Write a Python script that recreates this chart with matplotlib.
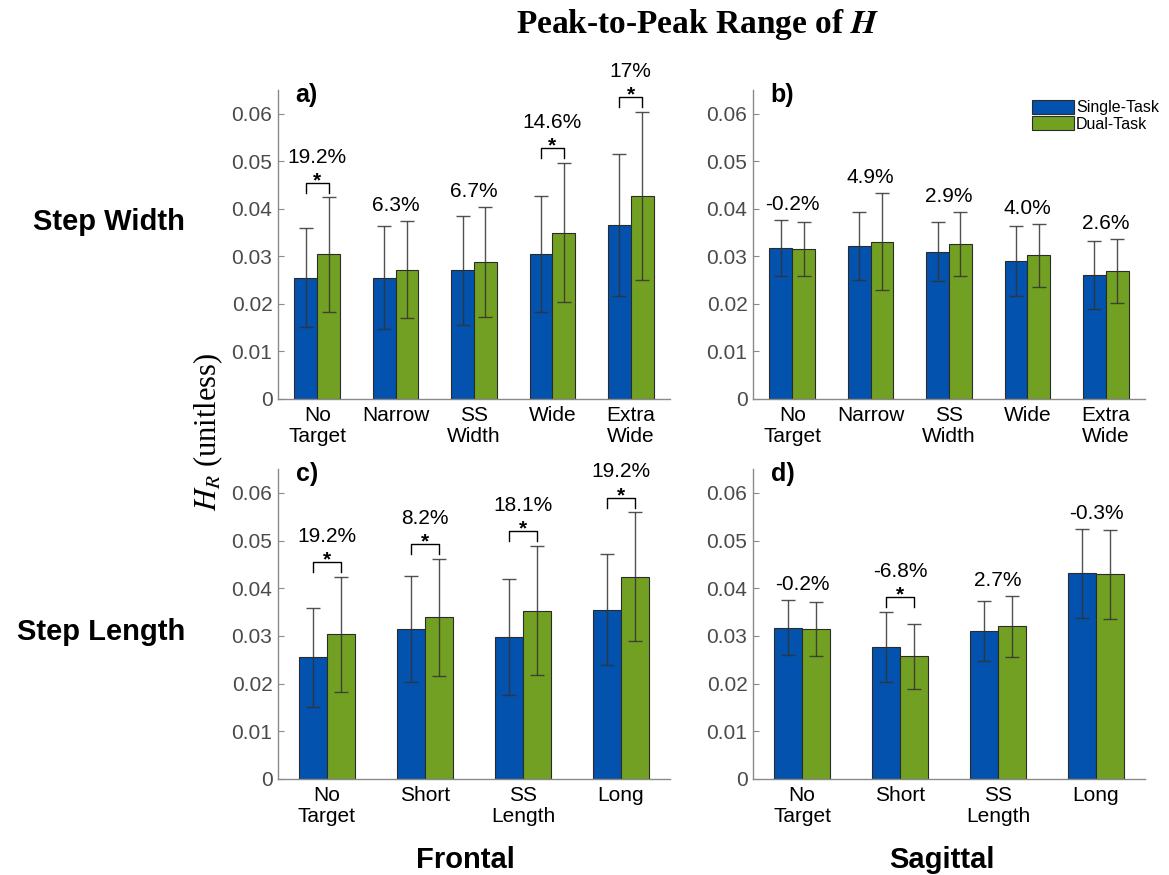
import matplotlib
matplotlib.use("Agg")
import matplotlib.pyplot as plt
from matplotlib.patches import Patch
import numpy as np

plt.rcParams['font.family'] = ['Liberation Sans', 'DejaVu Sans']
plt.rcParams['mathtext.fontset'] = 'stix'

# ---------------- data ----------------
cats_width = ["No\nTarget", "Narrow", "SS\nWidth", "Wide", "Extra\nWide"]
cats_length = ["No\nTarget", "Short", "SS\nLength", "Long"]

# panel a: Frontal / Step Width
a_single = [0.0255, 0.0255, 0.0271, 0.0305, 0.0366]
a_single_sd = [0.0104, 0.0108, 0.0115, 0.0122, 0.0149]
a_dual = [0.0304, 0.0272, 0.0288, 0.0350, 0.0427]
a_dual_sd = [0.0120, 0.0102, 0.0116, 0.0147, 0.0177]
a_pct = ["19.2%", "6.3%", "6.7%", "14.6%", "17%"]
a_sig = [True, False, False, True, True]

# panel b: Sagittal / Step Width
b_single = [0.0318, 0.0322, 0.0310, 0.0290, 0.0261]
b_single_sd = [0.0059, 0.0072, 0.0062, 0.0073, 0.0072]
b_dual = [0.0315, 0.0331, 0.0326, 0.0302, 0.0269]
b_dual_sd = [0.0057, 0.0102, 0.0067, 0.0066, 0.0067]
b_pct = ["-0.2%", "4.9%", "2.9%", "4.0%", "2.6%"]
b_sig = [False, False, False, False, False]

# panel c: Frontal / Step Length
c_single = [0.0255, 0.0315, 0.0298, 0.0355]
c_single_sd = [0.0104, 0.0111, 0.0121, 0.0116]
c_dual = [0.0303, 0.0339, 0.0353, 0.0424]
c_dual_sd = [0.0120, 0.0123, 0.0135, 0.0135]
c_pct = ["19.2%", "8.2%", "18.1%", "19.2%"]
c_sig = [True, True, True, True]

# panel d: Sagittal / Step Length
d_single = [0.0317, 0.0277, 0.0311, 0.0431]
d_single_sd = [0.0058, 0.0074, 0.0063, 0.0093]
d_dual = [0.0315, 0.0257, 0.0320, 0.0429]
d_dual_sd = [0.0057, 0.0068, 0.0064, 0.0093]
d_pct = ["-0.2%", "-6.8%", "2.7%", "-0.3%"]
d_sig = [False, True, False, False]

yticks = [0, 0.01, 0.02, 0.03, 0.04, 0.05, 0.06]
ytick_labels = ["0", "0.01", "0.02", "0.03", "0.04", "0.05", "0.06"]

BLUE = "#0352ad"
GREEN = "#72a022"
EDGE = "#2b2b2b"
SPINE = "#8a8a8a"
TICKC = "#4a4a4a"

fig = plt.figure(figsize=(11.69, 8.75), dpi=100)
W, H = 1169, 875


def ax_rect(l, r, top, bottom):
    return [l / W, 1 - bottom / H, (r - l) / W, (bottom - top) / H]


panels = [
    (ax_rect(278, 670, 90, 399), cats_width, a_single, a_single_sd, a_dual, a_dual_sd, a_pct, a_sig, "a)"),
    (ax_rect(753, 1145, 90, 399), cats_width, b_single, b_single_sd, b_dual, b_dual_sd, b_pct, b_sig, "b)"),
    (ax_rect(278, 670, 469, 779), cats_length, c_single, c_single_sd, c_dual, c_dual_sd, c_pct, c_sig, "c)"),
    (ax_rect(753, 1145, 469, 779), cats_length, d_single, d_single_sd, d_dual, d_dual_sd, d_pct, d_sig, "d)"),
]

bw = 0.29
for i, (rect, cats, s, ssd, dv, dsd, pct, sig, letter) in enumerate(panels):
    ax = fig.add_axes(rect)
    n = len(cats)
    x = np.arange(1, n + 1)
    xs = x - bw / 2
    xd = x + bw / 2
    ax.bar(xs, s, width=bw, color=BLUE, edgecolor=EDGE, linewidth=0.8, zorder=2, label="Single-Task")
    ax.bar(xd, dv, width=bw, color=GREEN, edgecolor=EDGE, linewidth=0.8, zorder=2, label="Dual-Task")
    ax.errorbar(xs, s, yerr=ssd, fmt="none", ecolor="#333333", elinewidth=1.0,
                capsize=5, capthick=1.0, alpha=0.85, zorder=3)
    ax.errorbar(xd, dv, yerr=dsd, fmt="none", ecolor="#333333", elinewidth=1.0,
                capsize=5, capthick=1.0, alpha=0.85, zorder=3)

    ax.set_xlim(0.5, n + 0.5)
    ax.set_ylim(0, 0.065)
    ax.set_yticks(yticks)
    ax.set_yticklabels(ytick_labels)
    ax.set_xticks(x)
    ax.set_xticklabels(cats, fontsize=15, color="black", linespacing=1.15)
    ax.tick_params(axis="y", direction="in", length=4, colors=SPINE, labelcolor=TICKC,
                   labelsize=15, pad=4)
    ax.tick_params(axis="x", direction="in", length=0, pad=5)
    for sp in ["top", "right"]:
        ax.spines[sp].set_visible(False)
    for sp in ["left", "bottom"]:
        ax.spines[sp].set_color(SPINE)
        ax.spines[sp].set_linewidth(1.0)

    # annotations
    for k in range(n):
        top = max(s[k] + ssd[k], dv[k] + dsd[k])
        if sig[k]:
            yb = top + 0.0031
            ax.plot([xs[k], xs[k], xd[k], xd[k]], [yb - 0.0021, yb, yb, yb - 0.0021],
                    color="black", lw=1.0, zorder=4, clip_on=False)
            ax.text(x[k], yb - 0.0007, "*", ha="center", va="baseline", fontsize=15,
                    fontweight="bold", clip_on=False)
            ax.text(x[k], yb + 0.0054, pct[k], ha="center", va="center", fontsize=15,
                    clip_on=False)
        else:
            ax.text(x[k], top + 0.0033, pct[k], ha="center", va="center", fontsize=15,
                    clip_on=False)

    ax.text(0.045, 0.985, letter, transform=ax.transAxes, ha="left", va="center",
            fontsize=18, fontweight="bold")

    if letter == "b)":
        ax.legend(handles=[Patch(facecolor=BLUE, edgecolor=EDGE, linewidth=0.8),
                           Patch(facecolor=GREEN, edgecolor=EDGE, linewidth=0.8)],
                  labels=["Single-Task", "Dual-Task"], loc="upper right",
                  bbox_to_anchor=(1.06, 1.0), frameon=False, fontsize=11.5,
                  handlelength=2.6, handleheight=1.0, handletextpad=0.15,
                  labelspacing=0.05, borderaxespad=0.2)

# figure texts
fig.text(698 / W, 1 - 24 / H, "Peak-to-Peak Range of $\\mathbfit{H}$", ha="center", va="center",
         fontsize=24, fontweight="bold", family=["Liberation Serif", "DejaVu Serif"])
fig.text(185 / W, 1 - 222 / H, "Step Width", ha="right", va="center", fontsize=21,
         fontweight="bold")
fig.text(185 / W, 1 - 632 / H, "Step Length", ha="right", va="center", fontsize=21,
         fontweight="bold")
fig.text(465 / W, 1 - 860 / H, "Frontal", ha="center", va="center", fontsize=21,
         fontweight="bold")
fig.text(942 / W, 1 - 860 / H, "Sagittal", ha="center", va="center", fontsize=21,
         fontweight="bold")
fig.text(208 / W, 1 - 432 / H, "$H_R$ (unitless)", ha="center", va="center", rotation=90,
         fontsize=22, family=["Liberation Serif", "DejaVu Serif"])

fig.savefig("out.png", dpi=100)
